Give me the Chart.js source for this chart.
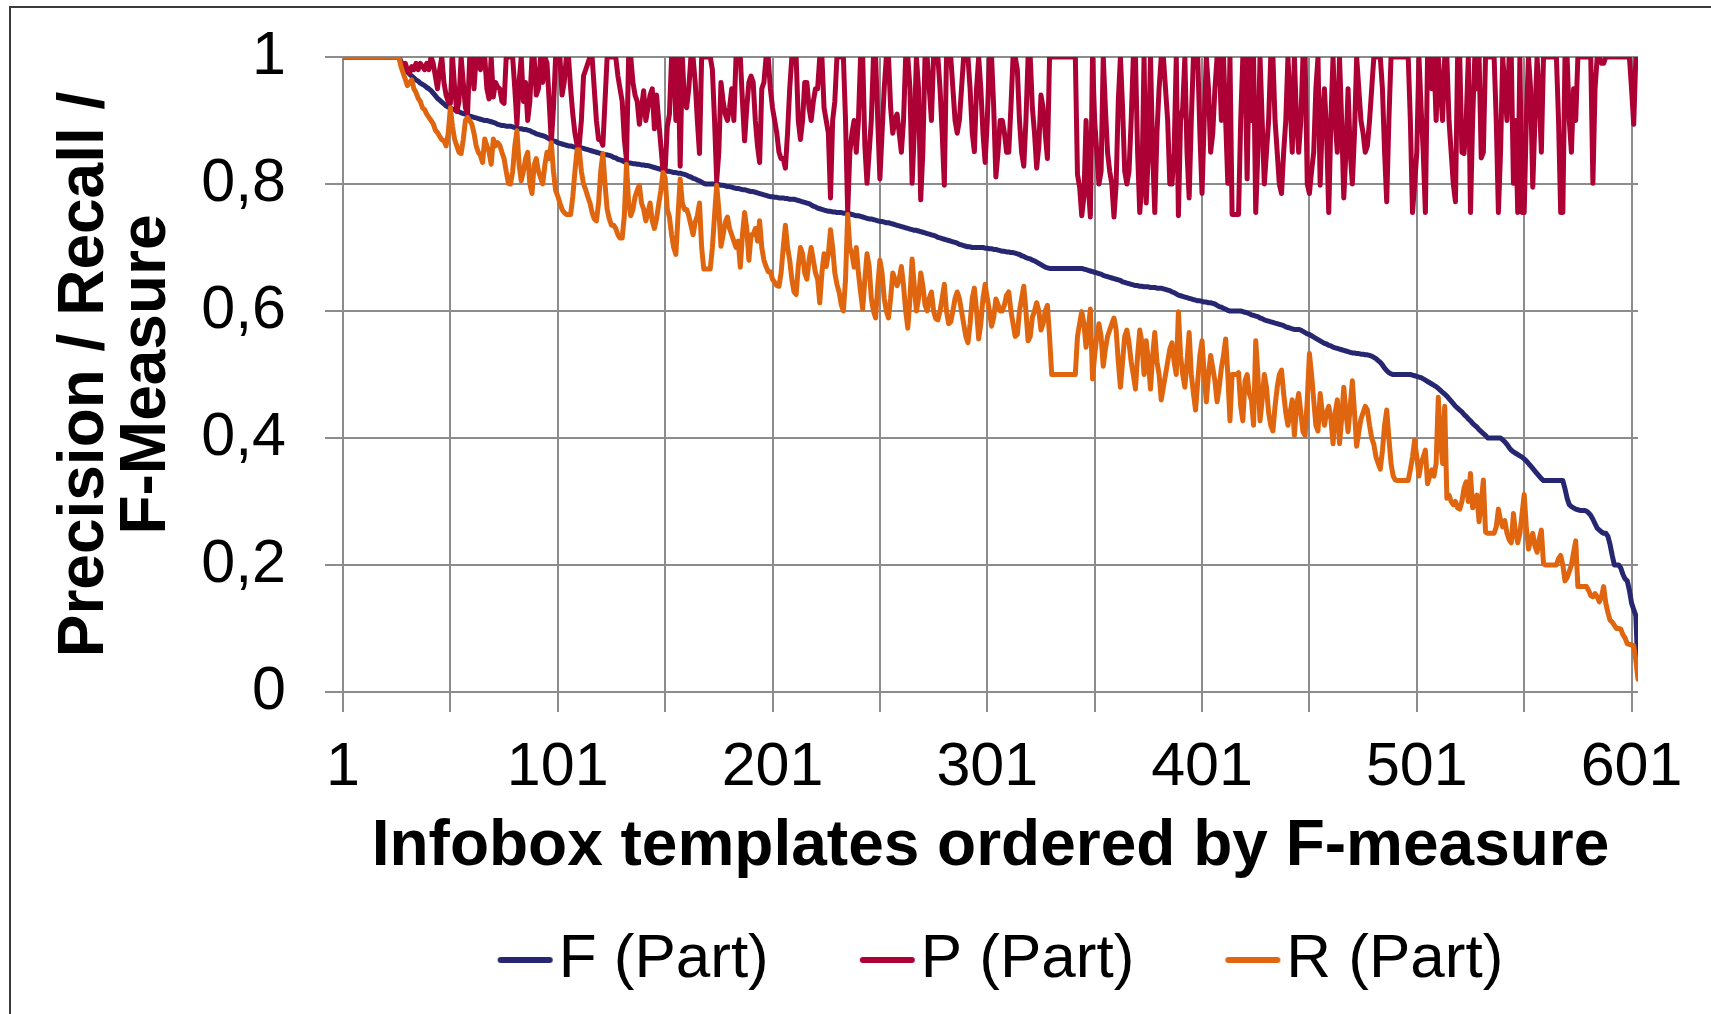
<!DOCTYPE html>
<html>
<head>
<meta charset="utf-8">
<script src="https://cdn.jsdelivr.net/npm/chart.js@4.4.0/dist/chart.umd.min.js"></script>
<style>
	html, body { margin: 0; padding: 0; background: #fff; }
	canvas { display: block; }
</style>
</head>
<body>
<canvas id="myChart" width="1711" height="1014"></canvas>
<script>
// templates 1..604, ordered by F-measure
const templates = Array.from({ length: 604 }, (_, i) => i + 1);
const xGridTicks = [1, 51, 101, 151, 201, 251, 301, 351, 401, 451, 501, 551, 601];

const fPart = [
	// 1-50
	1,1,1,1,1,1,1,1,1,1,
	1,1,1,1,1,1,1,1,1,1,
	1,1,1,1,1,1,1,0.993,0.987,0.981,
	0.977,0.973,0.97,0.967,0.964,0.962,0.959,0.957,0.955,0.952,
	0.95,0.947,0.943,0.939,0.935,0.932,0.929,0.926,0.923,0.921,
	// 51-100
	0.92,0.918,0.917,0.915,0.914,0.912,0.911,0.91,0.909,0.907,
	0.906,0.905,0.904,0.903,0.902,0.901,0.9,0.9,0.899,0.898,
	0.897,0.896,0.894,0.893,0.892,0.892,0.891,0.891,0.891,0.89,
	0.889,0.888,0.887,0.887,0.886,0.886,0.885,0.884,0.882,0.881,
	0.879,0.878,0.877,0.876,0.875,0.873,0.871,0.87,0.868,0.867,
	// 101-150
	0.865,0.864,0.863,0.862,0.861,0.86,0.86,0.859,0.858,0.858,
	0.857,0.857,0.856,0.855,0.854,0.853,0.852,0.851,0.85,0.849,
	0.848,0.847,0.846,0.846,0.845,0.844,0.842,0.841,0.839,0.838,
	0.837,0.835,0.834,0.833,0.833,0.832,0.832,0.831,0.831,0.83,
	0.83,0.829,0.829,0.828,0.827,0.826,0.825,0.824,0.823,0.822,
	// 151-200
	0.821,0.82,0.82,0.819,0.818,0.818,0.817,0.817,0.816,0.815,
	0.814,0.812,0.811,0.809,0.808,0.806,0.805,0.803,0.801,0.8,
	0.8,0.8,0.8,0.8,0.8,0.799,0.798,0.798,0.797,0.796,
	0.796,0.795,0.794,0.793,0.793,0.792,0.791,0.791,0.79,0.789,
	0.788,0.788,0.787,0.786,0.785,0.784,0.783,0.782,0.781,0.78,
	// 201-250
	0.78,0.779,0.779,0.778,0.778,0.778,0.777,0.777,0.776,0.776,
	0.776,0.775,0.774,0.773,0.772,0.771,0.77,0.769,0.767,0.765,
	0.764,0.762,0.761,0.76,0.759,0.758,0.757,0.757,0.756,0.756,
	0.755,0.755,0.755,0.754,0.754,0.754,0.753,0.752,0.751,0.75,
	0.75,0.749,0.748,0.747,0.746,0.745,0.745,0.744,0.743,0.742,
	// 251-300
	0.741,0.741,0.74,0.739,0.739,0.738,0.737,0.736,0.735,0.734,
	0.733,0.732,0.731,0.73,0.729,0.728,0.727,0.727,0.726,0.725,
	0.724,0.723,0.722,0.721,0.72,0.719,0.718,0.716,0.715,0.714,
	0.713,0.712,0.711,0.71,0.709,0.708,0.707,0.705,0.704,0.703,
	0.702,0.701,0.701,0.7,0.7,0.7,0.7,0.7,0.7,0.699,
	// 301-350
	0.699,0.698,0.698,0.697,0.697,0.696,0.695,0.694,0.694,0.693,
	0.693,0.692,0.692,0.691,0.69,0.689,0.687,0.686,0.684,0.683,
	0.682,0.68,0.679,0.677,0.675,0.673,0.671,0.669,0.668,0.667,
	0.667,0.667,0.667,0.667,0.667,0.667,0.667,0.667,0.667,0.667,
	0.667,0.667,0.667,0.667,0.667,0.666,0.665,0.664,0.663,0.662,
	// 351-400
	0.661,0.66,0.659,0.658,0.656,0.655,0.654,0.653,0.652,0.651,
	0.65,0.649,0.648,0.646,0.645,0.644,0.643,0.642,0.641,0.64,
	0.64,0.639,0.639,0.638,0.638,0.638,0.637,0.637,0.637,0.636,
	0.636,0.636,0.635,0.634,0.633,0.632,0.63,0.629,0.627,0.625,
	0.624,0.623,0.622,0.621,0.62,0.619,0.618,0.617,0.616,0.616,
	// 401-450
	0.615,0.614,0.614,0.613,0.613,0.612,0.611,0.609,0.607,0.606,
	0.604,0.603,0.601,0.6,0.6,0.6,0.6,0.6,0.6,0.599,
	0.598,0.597,0.596,0.594,0.593,0.592,0.591,0.589,0.588,0.586,
	0.585,0.584,0.583,0.582,0.581,0.58,0.579,0.578,0.577,0.575,
	0.574,0.573,0.572,0.571,0.571,0.571,0.57,0.568,0.566,0.564,
	// 451-500
	0.563,0.561,0.559,0.557,0.555,0.553,0.551,0.549,0.548,0.546,
	0.545,0.543,0.542,0.541,0.54,0.539,0.538,0.537,0.536,0.535,
	0.534,0.534,0.533,0.533,0.532,0.532,0.531,0.531,0.53,0.529,
	0.527,0.525,0.522,0.519,0.515,0.51,0.506,0.503,0.501,0.5,
	0.5,0.5,0.5,0.5,0.5,0.5,0.5,0.5,0.499,0.498,
	// 501-550
	0.497,0.496,0.495,0.493,0.491,0.489,0.487,0.485,0.483,0.481,
	0.478,0.475,0.472,0.469,0.466,0.462,0.458,0.454,0.45,0.447,
	0.444,0.441,0.437,0.434,0.43,0.427,0.423,0.42,0.417,0.413,
	0.41,0.407,0.404,0.4,0.4,0.4,0.4,0.4,0.4,0.4,
	0.397,0.394,0.39,0.385,0.381,0.378,0.376,0.374,0.372,0.37,
	// 551-604
	0.367,0.364,0.36,0.356,0.352,0.348,0.344,0.34,0.336,0.333,
	0.333,0.333,0.333,0.333,0.333,0.333,0.333,0.333,0.333,0.32,
	0.305,0.295,0.292,0.29,0.288,0.287,0.286,0.286,0.286,0.285,
	0.282,0.278,0.272,0.265,0.258,0.255,0.252,0.25,0.25,0.245,
	0.232,0.215,0.2,0.2,0.2,0.195,0.185,0.178,0.175,0.16,
	0.14,0.13,0.12,0.035
];

const pPart = [
	// 1-50
	1,1,1,1,1,1,1,1,1,1,
	1,1,1,1,1,1,1,1,1,1,
	1,1,1,1,1,1,1,0.99,0.985,0.99,
	0.98,0.975,0.985,0.98,0.99,0.98,0.99,0.985,0.98,0.99,
	0.98,1,0.99,0.97,0.95,0.98,1,0.96,0.94,0.93,
	// 51-100
	0.927,1,0.95,0.914,0.93,1,0.96,0.92,0.91,1,
	1,0.95,1,1,0.98,1,1,0.95,0.934,1,
	0.937,0.96,0.953,0.95,0.93,0.927,1,1,1,1,
	0.95,0.894,0.96,1,0.93,0.96,0.9,0.93,1,1,
	0.94,0.95,1,0.96,1,0.99,0.93,0.865,0.92,1,
	// 101-150
	1,1,0.94,0.96,1,1,0.95,0.91,0.88,0.861,
	0.861,0.9,0.97,0.98,0.99,1,1,0.95,0.9,0.87,
	0.87,0.861,0.93,1,1,1,1,1,0.97,0.95,
	0.93,0.87,0.838,1,1,0.96,0.94,0.93,0.894,0.92,
	0.947,0.9,0.92,0.94,0.95,0.887,0.94,0.9,0.86,0.821,
	// 151-200
	0.821,0.89,0.91,1,1,0.9,1,0.828,1,0.93,
	0.92,0.95,1,1,0.96,0.9,0.848,1,1,1,
	1,1,0.98,0.9,0.805,0.85,0.96,0.93,0.91,0.9,
	0.92,0.95,0.9,1,1,1,0.93,0.868,0.92,0.96,
	0.97,0.96,0.9,0.86,0.834,0.95,0.96,1,1,0.95,
	// 201-250
	0.92,0.9,0.88,0.85,0.84,0.84,0.825,0.88,0.95,1,
	1,1,0.9,0.87,0.9,0.96,0.96,0.92,0.9,0.93,
	0.95,0.95,1,1,0.92,0.9,0.88,0.778,0.9,0.93,
	1,1,1,1,0.9,0.755,0.85,0.88,0.9,0.85,
	0.9,1,1,0.86,0.801,0.85,0.9,1,1,0.9,
	// 251-300
	0.808,0.88,0.95,1,1,0.92,0.88,0.9,0.91,0.88,
	0.85,0.9,1,1,0.95,0.801,0.88,1,0.95,0.775,
	0.85,1,1,0.95,0.9,1,1,1,0.95,0.88,
	0.798,1,1,1,0.95,0.9,0.88,0.9,0.95,1,
	1,1,0.95,0.88,0.851,0.95,1,0.95,0.88,0.834,
	// 301-350
	0.9,1,1,0.92,0.811,0.85,0.9,0.9,0.88,0.85,
	0.85,0.92,1,1,0.98,0.9,0.85,0.828,0.9,1,
	1,0.92,0.88,0.825,0.86,0.94,0.92,0.88,0.84,1,
	1,1,1,1,1,1,1,1,1,1,
	1,1,0.815,0.795,0.75,0.78,0.9,0.8,0.748,1,
	// 351-400
	0.9,0.85,0.8,0.82,1,0.92,0.85,0.82,0.8,0.748,
	0.8,0.93,1,0.92,0.82,0.8,0.82,0.9,1,1,
	0.85,0.755,0.8,1,0.77,0.85,1,0.85,0.755,0.88,
	0.95,1,1,0.95,0.9,0.8,0.8,0.85,1,0.75,
	0.9,0.92,1,0.85,0.778,0.9,1,1,1,0.88,
	// 401-450
	0.785,0.9,1,0.95,0.85,0.88,0.95,1,1,0.9,
	1,0.9,0.801,1,0.752,0.752,0.752,0.752,0.9,1,
	1,0.808,1,0.9,1,0.755,0.85,1,0.9,0.8,
	0.85,0.9,1,1,0.9,0.85,0.8,0.785,0.85,0.9,
	1,0.93,0.85,1,0.9,0.85,0.9,1,1,0.8,
	// 451-500
	0.785,0.82,0.85,0.95,1,0.798,0.9,0.95,0.88,0.755,
	0.9,1,0.9,0.85,1,0.9,0.778,0.85,0.95,0.85,
	0.8,0.88,1,0.95,0.9,0.88,0.85,0.86,0.9,0.95,
	1,1,1,1,0.95,0.85,0.772,0.9,1,1,
	1,1,1,1,1,1,1,0.9,0.755,0.8,
	// 501-550
	0.85,1,0.92,0.85,0.755,1,1,0.95,1,0.9,
	1,0.95,0.9,1,1,0.9,0.85,0.8,0.772,1,
	1,0.85,0.848,0.9,1,0.755,0.9,1,0.95,1,
	0.841,0.85,1,1,1,1,1,0.9,0.755,0.85,
	1,0.95,0.9,1,1,0.801,0.9,0.755,1,0.755,
	// 551-604
	0.755,0.9,1,0.95,0.795,0.9,1,0.94,0.85,1,
	1,1,1,1,1,1,0.9,0.755,0.755,1,
	1,0.9,0.85,0.95,0.9,1,1,1,1,1,
	1,1,0.801,0.95,1,1,0.99,0.99,1,1,
	1,1,1,1,1,1,1,1,1,1,
	0.95,0.894,1,1
];

const rPart = [
	// 1-50
	1,1,1,1,1,1,1,1,1,1,
	1,1,1,1,1,1,1,1,1,1,
	1,1,1,1,1,1,1,0.985,0.975,0.965,
	0.955,0.96,0.964,0.95,0.944,0.935,0.93,0.92,0.917,0.91,
	0.905,0.9,0.895,0.885,0.881,0.875,0.87,0.868,0.86,0.88,
	// 51-100
	0.92,0.89,0.87,0.86,0.85,0.848,0.87,0.9,0.905,0.9,
	0.894,0.88,0.86,0.85,0.845,0.834,0.871,0.86,0.851,0.831,
	0.871,0.86,0.865,0.861,0.85,0.84,0.82,0.801,0.8,0.82,
	0.86,0.884,0.83,0.805,0.82,0.84,0.85,0.8,0.785,0.83,
	0.84,0.82,0.81,0.8,0.83,0.85,0.84,0.865,0.82,0.79,
	// 101-150
	0.781,0.77,0.76,0.755,0.752,0.752,0.752,0.78,0.82,0.854,
	0.854,0.82,0.8,0.791,0.78,0.77,0.755,0.745,0.742,0.77,
	0.82,0.848,0.8,0.76,0.745,0.735,0.735,0.73,0.72,0.715,
	0.715,0.75,0.831,0.77,0.75,0.76,0.78,0.79,0.798,0.77,
	0.76,0.742,0.755,0.77,0.742,0.73,0.745,0.768,0.79,0.818,
	// 151-200
	0.81,0.76,0.748,0.72,0.7,0.689,0.75,0.808,0.77,0.76,
	0.76,0.75,0.735,0.72,0.74,0.75,0.77,0.7,0.666,0.666,
	0.666,0.666,0.7,0.75,0.798,0.76,0.702,0.72,0.74,0.748,
	0.73,0.72,0.71,0.7,0.71,0.669,0.72,0.755,0.73,0.68,
	0.72,0.72,0.73,0.71,0.742,0.7,0.68,0.67,0.662,0.662,
	// 201-250
	0.65,0.645,0.64,0.639,0.66,0.7,0.735,0.7,0.68,0.65,
	0.63,0.626,0.67,0.7,0.69,0.66,0.65,0.68,0.7,0.68,
	0.66,0.65,0.613,0.66,0.69,0.67,0.69,0.728,0.7,0.66,
	0.642,0.63,0.61,0.6,0.65,0.752,0.7,0.69,0.669,0.7,
	0.66,0.63,0.603,0.65,0.69,0.67,0.62,0.6,0.589,0.64,
	// 251-300
	0.68,0.66,0.62,0.6,0.589,0.62,0.66,0.65,0.64,0.65,
	0.67,0.64,0.6,0.573,0.62,0.682,0.64,0.6,0.62,0.66,
	0.64,0.61,0.6,0.62,0.63,0.6,0.588,0.586,0.6,0.62,
	0.642,0.6,0.58,0.583,0.6,0.62,0.63,0.62,0.6,0.58,
	0.56,0.55,0.58,0.62,0.636,0.6,0.556,0.58,0.62,0.642,
	// 301-350
	0.62,0.6,0.576,0.59,0.619,0.61,0.6,0.6,0.61,0.625,
	0.63,0.6,0.58,0.56,0.563,0.6,0.62,0.639,0.6,0.553,
	0.56,0.59,0.6,0.613,0.6,0.57,0.58,0.6,0.609,0.56,
	0.5,0.5,0.5,0.5,0.5,0.5,0.5,0.5,0.5,0.5,
	0.5,0.5,0.56,0.58,0.599,0.58,0.543,0.57,0.603,0.493,
	// 351-400
	0.53,0.56,0.58,0.56,0.513,0.54,0.56,0.57,0.58,0.589,
	0.57,0.52,0.48,0.52,0.56,0.57,0.55,0.52,0.5,0.477,
	0.53,0.57,0.55,0.5,0.553,0.52,0.477,0.53,0.566,0.52,
	0.5,0.46,0.48,0.5,0.52,0.54,0.55,0.52,0.5,0.599,
	0.53,0.5,0.48,0.52,0.566,0.5,0.47,0.444,0.49,0.53,
	// 401-450
	0.553,0.5,0.457,0.5,0.53,0.51,0.49,0.457,0.48,0.51,
	0.53,0.556,0.5,0.427,0.5,0.5,0.5,0.503,0.45,0.427,
	0.49,0.5,0.47,0.46,0.42,0.553,0.5,0.427,0.46,0.5,
	0.48,0.44,0.42,0.411,0.45,0.48,0.5,0.507,0.47,0.44,
	0.42,0.44,0.46,0.404,0.45,0.47,0.44,0.41,0.404,0.46,
	// 451-500
	0.533,0.5,0.46,0.42,0.411,0.47,0.44,0.42,0.44,0.45,
	0.43,0.391,0.44,0.46,0.391,0.43,0.48,0.44,0.41,0.45,
	0.49,0.44,0.387,0.41,0.43,0.44,0.45,0.444,0.42,0.4,
	0.39,0.37,0.36,0.351,0.38,0.42,0.444,0.4,0.36,0.34,
	0.334,0.333,0.333,0.333,0.333,0.333,0.333,0.35,0.37,0.397,
	// 501-550
	0.37,0.34,0.36,0.37,0.381,0.328,0.34,0.35,0.34,0.36,
	0.464,0.4,0.36,0.45,0.305,0.31,0.3,0.295,0.3,0.29,
	0.288,0.3,0.321,0.331,0.3,0.344,0.29,0.3,0.31,0.268,
	0.3,0.334,0.252,0.25,0.25,0.25,0.25,0.26,0.288,0.27,
	0.26,0.27,0.25,0.24,0.235,0.281,0.25,0.235,0.25,0.28,
	// 551-604
	0.311,0.26,0.225,0.24,0.25,0.23,0.22,0.24,0.255,0.202,
	0.2,0.2,0.2,0.2,0.2,0.2,0.21,0.215,0.2,0.175,
	0.18,0.19,0.2,0.22,0.238,0.166,0.166,0.166,0.166,0.166,
	0.16,0.152,0.15,0.155,0.15,0.142,0.15,0.166,0.14,0.125,
	0.113,0.11,0.105,0.1,0.1,0.099,0.09,0.085,0.076,0.075,
	0.074,0.073,0.05,0.02
];

if (fPart.length !== 604 || pPart.length !== 604 || rPart.length !== 604) {
	throw new Error("lengths: F " + fPart.length + " P " + pPart.length + " R " + rPart.length);
}

const GRID_COLOR = "#8c8c8c";
const FONT = "'Liberation Sans', Arial, Helvetica, sans-serif";

// thin frame at the top and left edge, like the original picture
const framePlugin = {
	id: "frame",
	beforeDraw(chart) {
		const c = chart.ctx;
		c.save();
		c.fillStyle = "#fff";
		c.fillRect(0, 0, chart.width, chart.height);
		c.strokeStyle = "#3c3c3c";
		c.lineWidth = 2;
		c.beginPath();
		c.moveTo(10, chart.height);
		c.lineTo(10, 7);
		c.lineTo(chart.width, 7);
		c.stroke();
		c.restore();
	},
};

// legend symbol: short thick line sitting right against the label text
function legendLine(color) {
	const c = document.createElement("canvas");
	c.width = 110;
	c.height = 10;
	const g = c.getContext("2d");
	g.strokeStyle = color;
	g.lineWidth = 6;
	g.lineCap = "round";
	g.beginPath();
	g.moveTo(53, 5);
	g.lineTo(102, 5);
	g.stroke();
	return c;
}

function lineSet(label, data, color, order) {
	return {
		label: label,
		data: data,
		borderColor: color,
		backgroundColor: color,
		borderWidth: 5,
		borderJoinStyle: "round",
		borderCapStyle: "round",
		tension: 0,
		fill: false,
		pointRadius: 0,
		pointHoverRadius: 0,
		pointStyle: legendLine(color),
		order: order,
	};
}

const ctx = document.getElementById("myChart");

const myChart = new Chart(ctx, {
	type: "line",
	data: {
		labels: templates,
		datasets: [
			lineSet("F (Part)", fPart, "#262671", 2),
			lineSet("P (Part)", pPart, "#ad0035", 1),
			lineSet("R (Part)", rPart, "#e0650f", 0),
		],
	},
	options: {
		responsive: false,
		animation: false,
		devicePixelRatio: 1,
		layout: {
			padding: { left: 0, right: 73, top: 57, bottom: 13 },
		},
		plugins: {
			legend: {
				position: "bottom",
				fullSize: false,
				labels: {
					usePointStyle: true,
					pointStyleWidth: 50,
					padding: 71,
					color: "#000",
					font: { family: FONT, size: 62 },
					sort: (a, b) => a.datasetIndex - b.datasetIndex,
				},
			},
			tooltip: { enabled: false },
		},
		scales: {
			x: {
				type: "linear",
				min: 1,
				max: 604,
				afterBuildTicks: (axis) => {
					axis.ticks = xGridTicks.map((v) => ({ value: v }));
				},
				afterFit: (axis) => {
					axis.height = 166;
				},
				grid: { color: GRID_COLOR, lineWidth: 2, tickLength: 20, tickColor: GRID_COLOR },
				border: { display: false },
				ticks: {
					autoSkip: false,
					maxRotation: 0,
					padding: 20,
					color: "#000",
					font: { family: FONT, size: 61 },
					callback: (v) => ((v - 1) % 100 === 0 ? String(v) : ""),
				},
				title: {
					display: true,
					text: "Infobox templates ordered by F-measure",
					color: "#000",
					font: { family: FONT, size: 64, weight: "bold", lineHeight: 0.25 },
					padding: { top: 0, bottom: 3 },
				},
			},
			y: {
				min: 0,
				max: 1,
				afterFit: (axis) => {
					axis.width = 343;
				},
				grid: { color: GRID_COLOR, lineWidth: 2, tickLength: 18, tickColor: GRID_COLOR },
				border: { display: false },
				ticks: {
					stepSize: 0.2,
					padding: 39,
					color: "#000",
					font: { family: FONT, size: 61, lineHeight: 0.5 },
					callback: (v) => (v === 0 || v === 1 ? String(v) : v.toFixed(1).replace(".", ",")),
				},
				title: {
					display: true,
					text: ["Precision / Recall /", "F-Measure"],
					color: "#000",
					font: { family: FONT, size: 64, weight: "bold", lineHeight: 0.97 },
					padding: { top: 54, bottom: 0 },
				},
			},
		},
	},
	plugins: [framePlugin],
});
</script>
</body>
</html>
